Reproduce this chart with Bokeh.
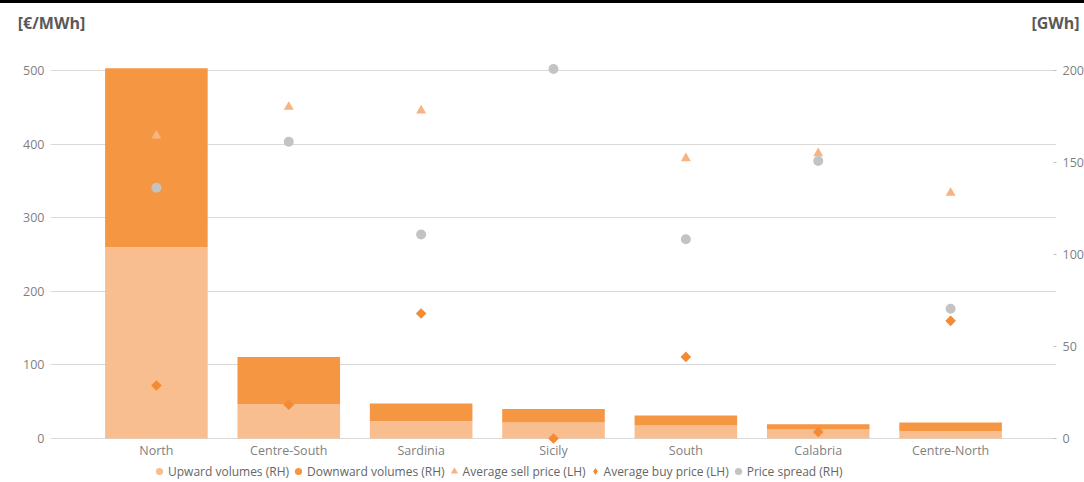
import math
from bokeh.plotting import figure
from bokeh.models import (Range1d, LinearAxis, CategoricalAxis, FactorRange, Legend, LegendItem,
                          FixedTicker, ColumnDataSource, InlineStyleSheet)
from bokeh.core.properties import value
from bokeh.embed import file_html
from bokeh.resources import INLINE

nan = float("nan")

# Market zones
zones = ["North", "Centre-South", "Sardinia", "Sicily", "South", "Calabria", "Centre-North"]

# Volumes [GWh] (right-hand axis)
upward_gwh = [104.0, 18.7, 9.4, 8.7, 7.1, 4.9, 4.1]
downward_gwh = [97.5, 25.7, 9.6, 7.3, 5.4, 2.9, 4.6]

# Prices [EUR/MWh] (left-hand axis)
avg_sell_price = [412, 451, 446, nan, 381, 388, 334]
avg_buy_price = [72, 46, 170, 0, 111, 9, 160]

# Price spread, plotted against the right-hand axis
price_spread = [136.4, 161.5, 111.0, 201.0, 108.4, 151.0, 70.6]

left_ticks = [0, 100, 200, 300, 400, 500]
right_ticks = [0, 50, 100, 150, 200]
unit_captions = ["[€/MWh]", "[GWh]"]

LIGHT_ORANGE = "#F8BE8F"
DARK_ORANGE = "#F59642"
SELL_COLOR = "#F7B383"
BUY_COLOR = "#F58A34"
SPREAD_COLOR = "#C3C3C3"
GRID = "#D9D9D9"
TICK_TEXT = "#7F7F7F"
FONT = "Open Sans"

source = ColumnDataSource(dict(
    zone=zones, up=upward_gwh, down=downward_gwh,
    sell=avg_sell_price, buy=avg_buy_price, spread=price_spread,
))

# The plotting area reaches down to the page bottom so that the zone names and
# the legend sit inside it, underneath the zero line.
p = figure(
    frame_width=1006, frame_height=440,
    x_range=FactorRange(factors=zones, range_padding=0.3, range_padding_units="absolute"),
    y_range=Range1d(-58.5, 540),
    x_axis_location=None,
    output_backend="svg", toolbar_location=None,
    min_border_left=50, min_border_right=28, min_border_top=38, min_border_bottom=0,
)
p.extra_y_ranges = {"gwh": Range1d(-23.4, 216)}
# caption positions: one over each value axis, just inside the frame edges
p.extra_x_ranges = {"caption": FactorRange(factors=unit_captions, range_padding=-0.499,
                                           range_padding_units="absolute")}
p.outline_line_color = None
# thin black rule along the top edge of the page
p.stylesheets = [InlineStyleSheet(css=":host { border-top: 3px solid #000000; }")]

# stacked volume bars
p.vbar_stack(["up", "down"], x="zone", width=0.775, source=source,
             y_range_name="gwh", color=[LIGHT_ORANGE, DARK_ORANGE], line_width=0)

sell_r = p.scatter("zone", "sell", source=source, marker="triangle", size=10,
                   color=SELL_COLOR, line_width=0)
p.scatter("zone", "buy", source=source, marker="square", size=7.5,
          angle=math.pi / 4, color=BUY_COLOR, line_width=0)
spread_r = p.scatter("zone", "spread", source=source, marker="circle", size=10,
                     color=SPREAD_COLOR, line_width=0, y_range_name="gwh")

# zone names under the zero line
p.text(x="zone", y=-15.7, text="zone", source=source, text_align="center",
       text_baseline="middle", text_font=value(FONT), text_font_size="12.5px",
       text_color=TICK_TEXT)

# legend swatches (a single undrawn point each)
up_sw = p.scatter(x=[zones[0]], y=[nan], marker="circle", color=LIGHT_ORANGE, line_width=0)
down_sw = p.scatter(x=[zones[0]], y=[nan], marker="circle", color=DARK_ORANGE, line_width=0)
buy_sw = p.scatter(x=[zones[0]], y=[nan], marker="diamond", color=BUY_COLOR, line_width=0)

# price axis
yaxis = p.yaxis[0]
yaxis.ticker = FixedTicker(ticks=left_ticks)
yaxis.axis_line_color = None
yaxis.major_tick_line_color = None
yaxis.major_tick_in = 0
yaxis.major_tick_out = 0
yaxis.minor_tick_line_color = None
yaxis.major_label_standoff = 6
yaxis.major_label_text_font = FONT
yaxis.major_label_text_font_size = "12.5px"
yaxis.major_label_text_color = TICK_TEXT

# volume axis
right_axis = LinearAxis(y_range_name="gwh", ticker=FixedTicker(ticks=right_ticks))
right_axis.axis_line_color = None
right_axis.major_tick_in = 3
right_axis.major_tick_out = 0
right_axis.major_tick_line_color = "#BFBFBF"
right_axis.minor_tick_line_color = None
right_axis.major_label_standoff = 6
right_axis.major_label_text_font = FONT
right_axis.major_label_text_font_size = "12.5px"
right_axis.major_label_text_color = TICK_TEXT
p.add_layout(right_axis, "right")

# unit captions over the two value axes
caption_axis = CategoricalAxis(x_range_name="caption")
caption_axis.axis_line_color = None
caption_axis.major_tick_line_color = None
caption_axis.major_tick_in = 0
caption_axis.major_tick_out = 0
caption_axis.minor_tick_line_color = None
caption_axis.major_label_standoff = 8
caption_axis.major_label_text_font = FONT
caption_axis.major_label_text_font_size = "16px"
caption_axis.major_label_text_font_style = "bold"
caption_axis.major_label_text_color = "#595959"
p.add_layout(caption_axis, "above")

p.xgrid.grid_line_color = None
p.ygrid.grid_line_color = GRID
p.ygrid.grid_line_width = 1.2

legend = Legend(items=[
    LegendItem(label="Upward volumes (RH)", renderers=[up_sw]),
    LegendItem(label="Downward volumes (RH)", renderers=[down_sw]),
    LegendItem(label="Average sell price (LH)", renderers=[sell_r]),
    LegendItem(label="Average buy price (LH)", renderers=[buy_sw]),
    LegendItem(label="Price spread (RH)", renderers=[spread_r]),
], orientation="horizontal", location=(100, 1), margin=0, padding=0,
    glyph_width=18, glyph_height=18, label_height=18, label_standoff=0, spacing=0,
    label_text_font=FONT, label_text_font_size="12px", label_text_color="#666666",
    border_line_color=None, background_fill_alpha=0)
p.add_layout(legend, "center")

open("out.html", "w").write(file_html(p, INLINE))
